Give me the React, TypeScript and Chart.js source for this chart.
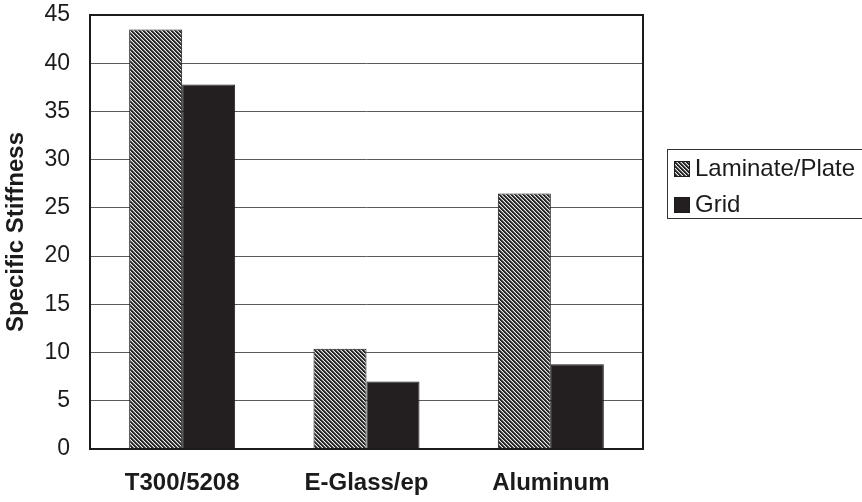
import React, { useEffect, useRef } from "react";
import { Chart, registerables } from "chart.js";

Chart.register(...registerables);

// Specific stiffness of plate laminates versus grid structures
const categories = ["T300/5208", "E-Glass/ep", "Aluminum"];
const laminatePlate = [43.5, 10.4, 26.5];
const gridValues = [37.8, 7.0, 8.8];
const seriesNames = ["Laminate/Plate", "Grid"];
const yAxisTitle = "Specific Stiffness";
const yMin = 0;
const yMax = 45;
const yStep = 5;

const FONT = '"Liberation Sans", Arial, Helvetica, sans-serif';
const INK = "#1c1a1b";

// Dense diagonal hatching ("\" direction) used for the laminate bars
function makeHatch(ctx: CanvasRenderingContext2D): CanvasPattern | string {
  const tile = document.createElement("canvas");
  tile.width = 4;
  tile.height = 4;
  const g = tile.getContext("2d");
  if (!g) return "#777";
  const img = g.createImageData(4, 4);
  const shades = [40, 40, 120, 232];
  for (let y = 0; y < 4; y++) {
    for (let x = 0; x < 4; x++) {
      const d = (((x - y) % 4) + 4) % 4;
      const v = shades[d];
      const i = (y * 4 + x) * 4;
      img.data[i] = v;
      img.data[i + 1] = v;
      img.data[i + 2] = v;
      img.data[i + 3] = 255;
    }
  }
  g.putImageData(img, 0, 0);
  return ctx.createPattern(tile, "repeat") || "#777";
}

// Black frame around the plot area
const plotFrame = {
  id: "plotFrame",
  afterDatasetsDraw(chart: any) {
    const { ctx, chartArea } = chart;
    ctx.save();
    ctx.strokeStyle = INK;
    ctx.lineWidth = 2;
    ctx.strokeRect(
      chartArea.left,
      chartArea.top,
      chartArea.right - chartArea.left,
      chartArea.bottom - chartArea.top
    );
    ctx.restore();
  },
};

// Boxed legend to the right of the plot
const boxedLegend = {
  id: "boxedLegend",
  afterDraw(chart: any) {
    const { ctx } = chart;
    const left = 667;
    const top = 149;
    const bottom = 218;
    ctx.save();
    ctx.strokeStyle = "#333";
    ctx.lineWidth = 1;
    ctx.strokeRect(left + 0.5, top + 0.5, 300, bottom - top);
    const rows = [168, 204];
    chart.data.datasets.forEach((ds: any, i: number) => {
      const cy = rows[i];
      ctx.fillStyle = ds.backgroundColor;
      ctx.fillRect(674, cy - 7, 15, 15);
      ctx.strokeStyle = INK;
      ctx.strokeRect(674.5, cy - 6.5, 15, 15);
      ctx.fillStyle = INK;
      ctx.font = `24px ${FONT}`;
      ctx.textAlign = "left";
      ctx.textBaseline = "middle";
      ctx.fillText(ds.label, 695, cy + 1);
    });
    ctx.restore();
  },
};

export default function App() {
  const canvasRef = useRef<HTMLCanvasElement | null>(null);

  useEffect(() => {
    const canvas = canvasRef.current;
    if (!canvas) return;
    const ctx = canvas.getContext("2d");
    if (!ctx) return;
    const hatch = makeHatch(ctx);

    const chart = new Chart(canvas, {
      type: "bar",
      data: {
        labels: categories,
        datasets: [
          {
            label: seriesNames[0],
            data: laminatePlate,
            backgroundColor: hatch as any,
            borderColor: INK,
            borderWidth: 1,
            categoryPercentage: 0.575,
            barPercentage: 1.0,
          },
          {
            label: seriesNames[1],
            data: gridValues,
            backgroundColor: "#231f20",
            borderColor: INK,
            borderWidth: 1,
            categoryPercentage: 0.575,
            barPercentage: 1.0,
          },
        ],
      },
      options: {
        animation: false,
        responsive: true,
        maintainAspectRatio: false,
        layout: { padding: { left: 0, top: 15, right: 219, bottom: 0 } },
        plugins: {
          legend: { display: false },
          tooltip: { enabled: false },
        },
        scales: {
          x: {
            grid: { display: false, drawTicks: false },
            border: { display: false },
            ticks: {
              padding: 20,
              color: INK,
              font: { family: FONT, size: 24, weight: "bold" },
            },
            afterFit(scale: any) {
              scale.height = 53;
              scale.paddingLeft = 0;
              scale.paddingRight = 0;
            },
          },
          y: {
            min: yMin,
            max: yMax,
            grid: { color: "#5a5a5a", lineWidth: 1, drawTicks: false },
            border: { display: false },
            ticks: {
              stepSize: yStep,
              padding: 20,
              color: INK,
              font: { family: FONT, size: 23 },
            },
            title: {
              display: true,
              text: yAxisTitle,
              color: INK,
              font: { family: FONT, size: 24, weight: "bold" },
              padding: { top: 2, bottom: 0 },
            },
            afterFit(scale: any) {
              scale.width = 90;
              scale.paddingTop = 0;
              scale.paddingBottom = 0;
            },
          },
        },
      },
      plugins: [plotFrame, boxedLegend],
    });

    return () => chart.destroy();
  }, []);

  return (
    <div
      style={{
        position: "fixed",
        left: 0,
        top: 0,
        width: 862,
        height: 502,
        background: "#fff",
      }}
    >
      <canvas ref={canvasRef} />
    </div>
  );
}
